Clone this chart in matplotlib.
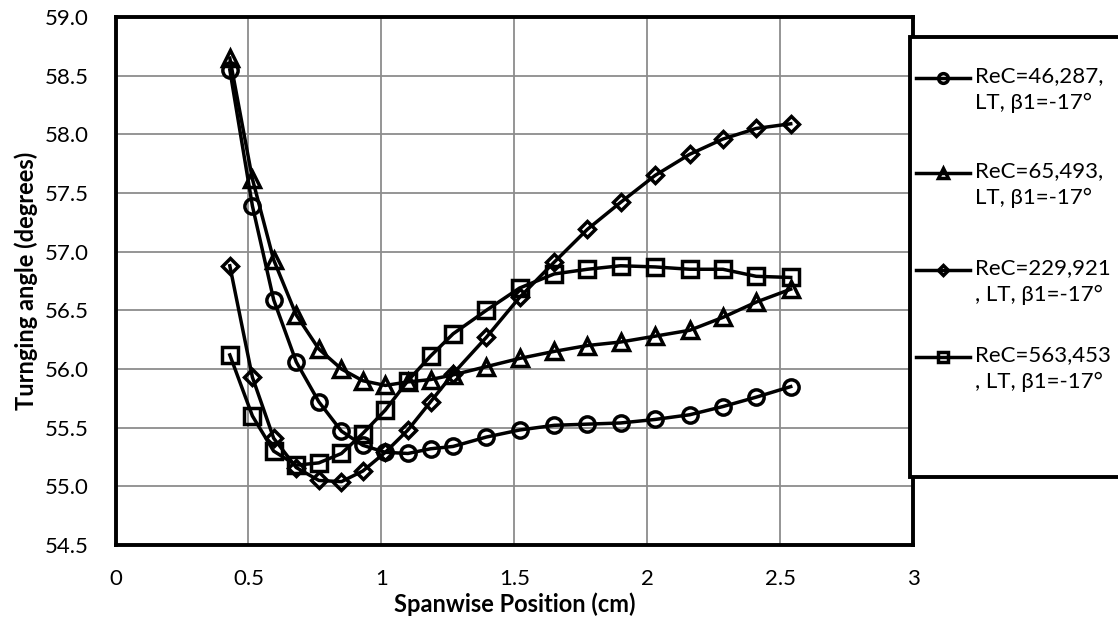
import numpy as np
import matplotlib
matplotlib.use('Agg')
import matplotlib.pyplot as plt
from matplotlib.lines import Line2D
from matplotlib.patches import Rectangle

plt.rcParams['font.family'] = ['Lato', 'DejaVu Sans']

# spanwise positions (cm), shared by all four runs
span_cm = [0.43, 0.515, 0.595, 0.68, 0.765, 0.85, 0.93, 1.015, 1.10, 1.185, 1.27,
           1.395, 1.52, 1.65, 1.775, 1.90, 2.03, 2.16, 2.285, 2.41, 2.54]

re_46287 = [58.55, 57.39, 56.59, 56.06, 55.72, 55.47, 55.35, 55.29, 55.28, 55.32, 55.34,
            55.42, 55.48, 55.52, 55.53, 55.54, 55.57, 55.61, 55.68, 55.76, 55.85]
re_65493 = [58.65, 57.62, 56.93, 56.46, 56.17, 56.00, 55.90, 55.86, 55.89, 55.91, 55.95,
            56.02, 56.09, 56.15, 56.20, 56.23, 56.28, 56.33, 56.44, 56.57, 56.68]
re_229921 = [56.88, 55.93, 55.41, 55.16, 55.05, 55.04, 55.13, 55.29, 55.48, 55.72, 55.96,
             56.27, 56.61, 56.91, 57.19, 57.42, 57.65, 57.83, 57.96, 58.05, 58.09]
re_563453 = [56.12, 55.60, 55.30, 55.18, 55.20, 55.28, 55.45, 55.65, 55.90, 56.11, 56.30,
             56.50, 56.69, 56.81, 56.85, 56.88, 56.87, 56.85, 56.85, 56.79, 56.78]

labels = ['ReC=46,287,\nLT, β1=-17°', 'ReC=65,493,\nLT, β1=-17°',
          'ReC=229,921\n, LT, β1=-17°', 'ReC=563,453\n, LT, β1=-17°']
series = [re_46287, re_65493, re_229921, re_563453]
markers = ['o', '^', 'D', 's']
msizes = [11, 11, 8, 12]
leg_msizes = [7, 7, 5.5, 7]

W, H = 1118, 626
fig = plt.figure(figsize=(W / 100, H / 100), dpi=100)
ax = fig.add_axes([115.5 / W, 1 - 545 / H, (913 - 115.5) / W, (545 - 17) / H])

for y, m, ms in zip(series, markers, msizes):
    ax.plot(span_cm, y, color='black', lw=2.5, marker=m, ms=ms,
            mfc='none', mec='black', mew=2.5, zorder=3)

ax.set_xlim(0, 3)
ax.set_ylim(54.5, 59.0)
ax.set_xticks(np.arange(0, 3.01, 0.5))
ax.set_xticklabels(['0', '0.5', '1', '1.5', '2', '2.5', '3'])
ax.set_yticks(np.arange(54.5, 59.01, 0.5))
ax.set_yticklabels(['%.1f' % v for v in np.arange(54.5, 59.01, 0.5)])
ax.tick_params(length=0, labelsize=16)
ax.tick_params(axis='y', pad=19)
ax.tick_params(axis='x', pad=17)
ax.grid(True, color='#8c8c8c', lw=1.3)
ax.set_axisbelow(True)
for s in ax.spines.values():
    s.set_linewidth(2.8)
    s.set_color('black')

ax.set_xlabel('Spanwise Position (cm)', fontsize=17, fontweight='bold', labelpad=3)
ax.set_ylabel('Turnging angle (degrees)', fontsize=17, fontweight='bold', labelpad=5)

# legend box drawn over the right edge of the plot, as in the original
fig.patches.append(Rectangle((910 / W, 1 - 477 / H), 300 / W, (477 - 37) / H,
                             transform=fig.transFigure, fc='white', ec='black',
                             lw=2.8, zorder=5))
first_line_y = [78, 173, 270, 357]
for lab, m, ms, yy in zip(labels, markers, leg_msizes, first_line_y):
    fy = 1 - yy / H
    fig.add_artist(Line2D([916 / W, 970 / W], [fy, fy], transform=fig.transFigure,
                          color='black', lw=2.5, zorder=6))
    fig.add_artist(Line2D([943 / W], [fy], transform=fig.transFigure, marker=m,
                          ms=ms, mfc='none', mec='black', mew=2.5, zorder=6))
    fig.text(975 / W, fy + 12 / H, lab, fontsize=16, va='top', ha='left',
             linespacing=1.45, zorder=7, transform=fig.transFigure)

fig.savefig('out.png', dpi=100)
